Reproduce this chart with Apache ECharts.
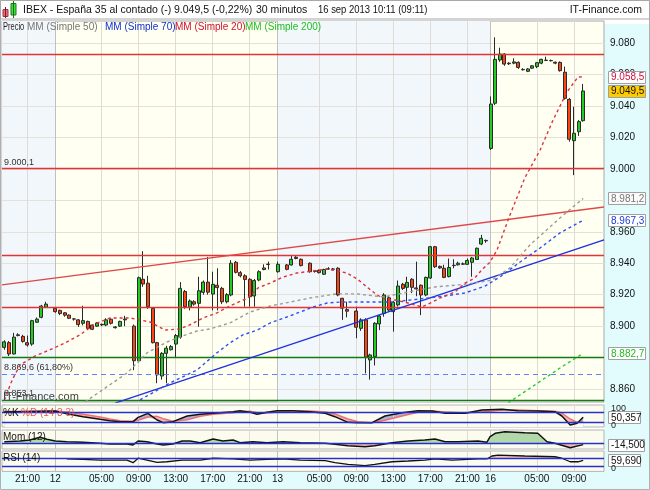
<!DOCTYPE html>
<html><head><meta charset="utf-8">
<script src="https://cdn.jsdelivr.net/npm/echarts@6/dist/echarts.min.js"></script>
<style>
html,body{margin:0;padding:0;background:#fff}
#wrap{position:relative;width:650px;height:490px;background:#fff;overflow:hidden}
.cy{position:absolute;background:#e2fcfd}
#c{position:absolute;left:0;top:0;width:650px;height:490px}
</style>
</head><body>
<div id="wrap">
<div class="cy" style="left:604px;top:24px;width:46px;height:466px"></div>
<div class="cy" style="left:0;top:472px;width:650px;height:18px"></div>
<div id="c"></div>
</div>
<script>
// ---------------- DATA ----------------
const slotCount = 130;
const tickIndex = [5,11,21,29,37,45,53,59,68,76,84,92,100,105,115,123];
const tickText  = ['21:00','12','05:00','09:00','13:00','17:00','21:00','13','05:00','09:00','13:00','17:00','21:00','16','05:00','09:00'];
const dayTickIndex = [11,59,105];
const dayShade = [[-0.5,11],[59,105]];
const priceTicks = [8860,8880,8900,8920,8940,8960,8980,9000,9020,9040,9060,9080];

// [open, close, low, high]
const candles = [
 [8886.5,8890,8885,8891],[8889.5,8882.3,8881,8890.5],[8882.3,8893,8882,8895.7],[8894,8894.5,8893.5,8895.5],
 [8893.5,8890.3,8889.5,8894.5],[8889.5,8888,8887,8894],[8888.6,8903.5,8887.5,8904],[8902.5,8904.5,8902,8905.5],
 [8905.6,8912.8,8905,8913.5],[8912,8914,8911.5,8915.5],'-',[8911.3,8909.2,8908.5,8912],
 [8910,8908,8907,8910.5],[8908.5,8907,8906,8909],[8907,8905,8904.5,8907.5],[8904.5,8904.6,8903.5,8905],
 [8904,8901,8899.5,8904.5],[8901.8,8903.5,8900.5,8913],[8903,8898.6,8898,8903.5],[8900.7,8898,8897.5,8901],
 [8900,8902,8899.5,8902.5],[8901.2,8900.8,8900,8901.5],[8900.7,8904,8900,8905],[8904.4,8901.8,8901,8905],
 [8899.5,8899,8898.5,8900],[8900,8903,8899.5,8903.5],[8904,8904.5,8900,8906.6],'-',
 [8900,8878,8872,8901],[8878,8930.8,8877,8931.5],[8929.8,8926.8,8925,8947.7],[8927.3,8912.4,8911,8932],
 [8911.3,8889.5,8889,8912],[8889.5,8869,8863.7,8890],[8868.3,8882.7,8866,8883.5],[8882.7,8886,8863.7,8887.5],
 [8885,8887,8884.5,8888],[8888.6,8894,8880,8895],[8893,8924,8892,8928],[8922,8912.4,8911,8923],
 [8912,8916,8910,8917],[8915.5,8914,8913,8916.5],[8914.5,8922.5,8899.6,8931.4],[8921.5,8928,8920,8929],
 [8928,8921.6,8920,8944],[8920.4,8926.6,8910,8934.6],[8926,8924.5,8910,8936.8],[8924,8915.5,8914,8925],
 [8915.5,8920,8914.5,8921],[8919.8,8940,8919,8942],[8940.6,8934.2,8933.5,8941.5],[8934,8932,8931,8935],
 [8932,8929.7,8912.4,8933],[8929.8,8918.7,8912.4,8930.5],[8919.2,8929,8912.4,8930],[8929.3,8934.6,8928.5,8935.5],
 [8936,8937,8935.5,8939.3],[8939.2,8939.4,8936,8941],'-',[8934.6,8939.3,8934,8941],
 '-',[8938.9,8936.1,8935.5,8939.5],[8938.9,8942.5,8938.5,8944.6],[8943.8,8943,8942.5,8945],
 [8942.5,8938.5,8938,8943],'-',[8940,8934.6,8934,8940.5],[8935.2,8934.8,8934,8935.6],
 [8935.5,8934,8933.5,8936],[8933,8936,8932.5,8936.5],[8936.3,8936.5,8936,8937.5],[8936.2,8936.3,8935.8,8937],
 [8936.8,8919.8,8919,8937.5],[8917.7,8911.4,8904,8918],[8910.5,8909.5,8905.6,8915.5],'-',
 [8909.6,8899.3,8892.3,8912.4],[8898.6,8904,8897,8905],[8904,8880.2,8870,8905],[8878.5,8881.7,8866,8882.5],
 [8880.6,8901.8,8875,8902.5],[8901.4,8906.4,8897.5,8907],[8908,8919.8,8906,8921],[8918,8910.2,8909,8919],
 [8909.2,8915.2,8896.5,8916],[8913.5,8925.5,8912.5,8929],[8926.6,8924,8923,8927.5],[8924.7,8927.8,8915.5,8931.4],
 [8929.8,8924.7,8921,8930.5],[8924.3,8923.7,8919,8941],[8926,8919.8,8907,8926.5],[8919.8,8931,8919,8931.5],
 [8930.6,8950.5,8930,8951],[8950.5,8937.8,8937,8951],[8938,8937,8936.5,8938.5],[8936.8,8931,8930.5,8939],
 [8931.5,8937.3,8931,8943],[8938.5,8938.7,8936.8,8942.5],[8939,8940,8938.5,8941],[8939.4,8939.6,8939,8940.5],
 [8939.3,8941.7,8939,8943],[8940.6,8943.3,8931.4,8944],[8942.4,8949.5,8942,8950],[8952.2,8955.8,8951.5,8958],
 [8954.5,8954.2,8953,8955],[9013,9041.2,9012,9046],[9041.7,9069.6,9040.5,9083.6],[9069.2,9073,9068,9077],
 [9073,9066.6,9065.5,9073.5],[9067.2,9066.8,9066,9067.8],[9067.2,9068,9066.5,9070.3],[9067.7,9064.5,9063.5,9068.3],
 [9063.2,9063,9062.5,9064],[9062,9063.5,9061.5,9064],[9064,9065.5,9063.5,9066],[9065,9067.5,9064,9068],
 [9067.2,9069.6,9066.5,9070],[9068.9,9069.1,9068.5,9071.3],[9068.7,9068.9,9068.3,9069.5],[9067.8,9067.2,9066.5,9068.2],
 [9067.7,9062.4,9061.8,9068.3],[9061.4,9044.8,9044,9065],[9044.2,9018.8,9017.3,9045],[9017.9,9022.6,8996,9039.5],
 [9023.6,9030,9020.9,9031],[9030.6,9049.5,9030,9054]
];

// moving averages, read as [slot, value]
const mm20 = [[0,8853],[1.7,8865.8],[3.4,8875.3],[6.6,8881],[9.9,8885],[13.1,8889.3],[16.3,8894.4],[19.6,8901.4],[22.8,8905.2],[27.1,8905.2],[31.5,8902.6],[34.7,8897.5],[37.9,8898.2],[40.5,8901.4],[42.9,8905.2],[45.9,8908.4],[48.7,8912.8],[52.6,8917.9],[54.8,8924.3],[57.4,8927.4],[60.2,8931.2],[63.2,8933.8],[66.7,8935.1],[69.7,8936.3],[71.8,8935.1],[74,8933.8],[76.2,8930],[78.3,8924.9],[80.5,8919.8],[82.6,8916.6],[84.4,8916.6],[87.2,8914.7],[90.2,8912.2],[92.4,8915.3],[94.5,8918.5],[97.3,8921.7],[99.5,8927.4],[101.6,8930.6],[103.1,8935.7],[104.9,8940.8],[106.4,8948.4],[109.2,8970.7],[112.4,8994.2],[115.7,9012],[118.5,9031],[121.5,9048.8],[123.9,9058.4],[125,9058.5]];
const mm50 = [[17.4,8851.8],[26.5,8870.2],[30.8,8883],[35.1,8889.9],[37.9,8893.1],[41.6,8896.9],[44.4,8898.2],[48.7,8902],[53.1,8909],[57.4,8912.8],[61.7,8915.3],[66,8917.9],[71.8,8920.5],[76.2,8920.5],[81.8,8918.5],[87.2,8921.7],[93,8924.9],[98,8926.2],[101.6,8927.4],[105.3,8929.3],[109.2,8937],[113.5,8951.6],[120,8968.8],[125,8981.2]];
const mm70 = [[29.3,8853.1],[35.8,8863.9],[41.6,8872.1],[45.9,8883],[48.7,8889.3],[51.5,8894.4],[54.6,8897.5],[57.4,8902],[61,8905.8],[63.9,8909],[66.7,8912.2],[69.7,8914.7],[72.5,8915.3],[79,8915.3],[83.7,8915.3],[89.8,8917.3],[95.2,8919.2],[99.5,8921.1],[103.8,8925.5],[107,8931.2],[111.4,8940.8],[115.7,8949.7],[120,8959.3],[125,8967.3]];
const mm200 = [[108.8,8851.2],[120,8873.4],[125,8882.7]];
const trendRed  = [[-0.5,8926.2],[129.5,8975.7]];
const trendBlue = [[23.9,8851.1],[129.5,8954.8]];

const levelValues = [9073, 9000.1, 8945.2, 8912, 8880.3, 8869.6, 8853.1];
const levelKinds  = ['red','red','red','red','green','fibo','green'];
const levelLabels = ['', '9.000,1', '', '', '', '8.869,6 (61,80%)', '8.853,1'];

// stochastic %K %D (14 3 3)
const stochIdx = [0,11,13.5,17,20.7,22.8,25,27.8,28.9,31,33,34.3,36.4,39.5,42.3,45.1,49.4,50.9,53.1,54.6,56.7,58.9,62.3,66,69.3,71.4,74.2,76.4,79.4,82.2,85.9,89.3,92.4,95.2,99.5,103.1,107.5,110.9,115.2,118.9,120.4,122.2,123.7,125];
const stochK = [82,88,72,54,38,30,24,24,50,74,34,18,24,58,68,74,84,90,80,68,80,90,90,84,74,54,20,18,18,58,78,90,88,74,74,94,98,90,88,84,58,4,14,50.357];
const stochD = [85,88,82,68,52,40,30,26,32,52,56,42,26,36,56,68,78,84,86,78,76,82,88,88,82,70,40,24,18,32,58,80,88,82,76,82,94,94,90,86,76,40,20,22];
const stochLevels = [80,20];

// momentum (12)
const momIdx = [0,3.4,5.5,7.7,9.2,11,13.5,17,20.7,22.8,26.5,27.8,28.9,30.8,33,34.3,36.4,38.4,40.1,42.3,45.1,47.2,49.4,50.9,53.7,56.7,60.2,63.9,69.3,71.4,74.2,77.9,80,83.7,87.2,90.8,93,95.2,98,102.3,104.2,104.9,106,108.1,112.4,115.2,117.2,118.9,122.2,125];
const momVal = [17,25,36,65,44,25,17,11,0,-8,-8,-18,25,17,-8,-18,-8,25,25,7,47,25,36,7,17,7,17,7,0,-11,-26,-37,-26,7,25,36,47,17,17,25,11,72,109,126,115,109,17,0,-48,-14.5];

// RSI (14)
const rsiIdx = [13.5,17,20.7,26.5,27.8,28.9,30.8,33,35.1,38.4,42.3,45.1,49.4,53.1,56.7,60.2,63.9,69.3,71.4,74.2,77.9,80,83.7,87.2,90.8,93,96.7,102.3,104.2,105.3,106.6,112.4,118.9,120.4,122.2,123.9,125];
const rsiVal = [67,65,61,61,47,71,61,49,52,61,61,71,67,61,65,67,61,58,47,38,31,38,52,56,61,67,61,67,67,83,88,83,79,71,52,52,59.69];
const rsiLevels = [70,30];

const headerTexts = ['IBEX - España 35 al contado (-)', '9.049,5 (-0,22%)', '30 minutos', '16 sep 2013 10:11 (09:11)', 'IT-Finance.com'];
const legendTexts = ['Precio', 'MM (Simple 50)', 'MM (Simple 70)', 'MM (Simple 20)', 'MM (Simple 200)'];

// ---------------- CHART ----------------
const FONT = 'Liberation Sans';
function fmt(v, d) {
  const neg = v < 0; const s = Math.abs(v).toFixed(d);
  let [ip, fp] = s.split('.');
  ip = ip.replace(/\B(?=(\d{3})+(?!\d))/g, '.');
  return (neg ? '-' : '') + ip + (fp ? ',' + fp : '');
}
const categories = Array.from({length: slotCount}, (_, i) => String(i));
const xMin = -0.5, xMax = slotCount - 0.5;
const mainTop = 21, mainBottom = 402, pxPerPoint = 1.573, refPrice = 9080, refY = 43;
const yMax = refPrice + (refY - mainTop) / pxPerPoint;
const yMin = refPrice - (mainBottom - refY) / pxPerPoint;
const panelBg = '#fcfcee';

const candleData = candles.map(c => c === '-' ? ['-','-','-','-'] : c);
const levelStyles = {
  red:   {color:'#e23434', width:1.3, type:'solid'},
  green: {color:'#137a13', width:1.4, type:'solid'},
  fibo:  {color:'#5b82f8', width:1.2, type:[5,4]}
};
const vgridItems = tickIndex.map(i => ({xAxis: i, lineStyle:{color: dayTickIndex.includes(i) ? '#c0c0c0' : '#dedcd4', width:1, type:'solid'}}));
const vgrid = (z) => ({silent:true, symbol:['none','none'], z, label:{show:false}, animation:false, data: vgridItems});
const hlines = (vals, z) => ({silent:true, symbol:['none','none'], z, label:{show:false}, animation:false,
  data: vals.map(v => ({yAxis:v, lineStyle:{color:'#2430d0', width:1.4, type:'solid'}}))});
const line = (data, color, width, type, xi, yi, z, extra) => Object.assign({type:'line', xAxisIndex:xi, yAxisIndex:yi, data,
  symbol:'none', showSymbol:false, silent:true, z: z || 3, animation:false, lineStyle:{color, width, type: type || 'solid'}}, extra || {});
const fill = (data, color, xi, yi, z, origin, extra) => line(data, '#000', 0, 'solid', xi, yi, z,
  Object.assign({lineStyle:{opacity:0, width:0}, areaStyle:{color, opacity:1, origin: origin}}, extra || {}));

const zipXY = (xs, ys) => xs.map((x,k) => [x, ys[k]]);
const stochLow = stochIdx.map((x,k) => [x, Math.min(stochK[k], stochD[k])]);
const momPos = momIdx.map((x,k) => [x, Math.max(momVal[k], 0)]);
const momNeg = momIdx.map((x,k) => [x, Math.min(momVal[k], 0)]);
const rsiHigh = rsiIdx.map((x,k) => [x, Math.max(rsiVal[k], 70)]);

const gridCommon = {left:2, right:46, show:true, borderWidth:1};
const hiddenX = (g, pos) => ({type:'value', gridIndex:g, min:xMin, max:xMax, show:false, position:pos || 'bottom'});

const option = {
  animation:false,
  textStyle:{fontFamily:FONT},
  grid:[
    Object.assign({top:mainTop, height:mainBottom-mainTop, backgroundColor:'#fffff2', borderColor:'#a8a8a8'}, gridCommon),
    Object.assign({top:405, height:22, backgroundColor:panelBg, borderColor:'#b4b4b4'}, gridCommon),
    Object.assign({top:430, height:19, backgroundColor:panelBg, borderColor:'#b4b4b4'}, gridCommon),
    Object.assign({top:451, height:20.4, backgroundColor:panelBg, borderColor:'#b4b4b4'}, gridCommon),
    {left:2, right:46, top:refY, height:(refPrice-8860)*pxPerPoint, show:false}
  ],
  xAxis:[
    {type:'category', gridIndex:0, data:categories, boundaryGap:true, show:false},
    hiddenX(0),
    hiddenX(1),
    hiddenX(2),
    hiddenX(3,'top'),
    {type:'category', gridIndex:3, data:categories, boundaryGap:true, position:'bottom',
      axisLine:{show:false}, axisTick:{show:false}, splitLine:{show:false},
      axisLabel:{interval:(idx) => tickIndex.includes(idx), formatter:(v, idx) => tickText[tickIndex.indexOf(idx)] || '',
        fontSize:10, color:'#111', margin:3, fontFamily:FONT}},
    hiddenX(4)
  ],
  yAxis:[
    {type:'value', gridIndex:0, min:yMin, max:yMax, show:false},
    {type:'value', gridIndex:1, min:-8, max:124, show:false},
    {type:'value', gridIndex:2, min:-62, max:145, show:false},
    {type:'value', gridIndex:3, min:0, max:110, show:false},
    {type:'value', gridIndex:4, position:'right', min:8860, max:9080, interval:20,
      axisLine:{show:false}, splitLine:{show:false},
      axisTick:{show:true, length:4, lineStyle:{color:'#8a8a8a'}},
      minorTick:{show:true, splitNumber:2, length:3, lineStyle:{color:'#9a9a9a'}},
      axisLabel:{margin:6, fontSize:10, color:'#111', fontFamily:FONT, formatter:v => fmt(v,0)}}
  ],
  series:[
    // background: day shading + grid lines
    {type:'line', xAxisIndex:1, yAxisIndex:0, data:[[xMin, yMin]], symbol:'none', showSymbol:false, lineStyle:{opacity:0}, silent:true, z:1,
      markArea:{silent:true, z:0.5, itemStyle:{color:'#f2f7fc'}, data: dayShade.map(r => [{xAxis:r[0]},{xAxis:r[1]}])},
      markLine:{silent:true, z:0.7, symbol:['none','none'], label:{show:false}, animation:false,
        data:[...priceTicks.map(v => ({yAxis:v, lineStyle:{color:'#e2e2da', width:1, type:'solid'}})), ...vgridItems]}},
    {type:'candlestick', xAxisIndex:0, yAxisIndex:0, data:candleData, barWidth:3.5, z:2, silent:true, clip:true,
      itemStyle:{color:'#22cc22', color0:'#ff4411', borderColor:'#2a2a2a', borderColor0:'#2a2a2a', borderWidth:1},
      markLine:{silent:true, symbol:['none','none'], animation:false, z:2.5,
        data: levelValues.map((v,k) => ({yAxis:v, lineStyle:levelStyles[levelKinds[k]],
          label: levelLabels[k] ? {show:true, formatter:levelLabels[k], position:'insideStartTop', color:'#333', fontSize:9, distance:2, fontFamily:FONT} : {show:false}}))}},
    line(trendRed, '#e04848', 1.4, 'solid', 1, 0, 3),
    line(trendBlue, '#1f2fe0', 1.4, 'solid', 1, 0, 3),
    line(mm50, '#9a9a9a', 1.4, [3,3], 1, 0, 3),
    line(mm70, '#3050f0', 1.4, [3,3], 1, 0, 3),
    line(mm20, '#e0303c', 1.4, [3,3], 1, 0, 3),
    line(mm200, '#30c830', 1.4, [3,3], 1, 0, 3),
    // stochastic: pink under %D, blue under %K, cover under min(K,D)
    fill(zipXY(stochIdx, stochD), '#f4b4b4', 2, 1, 2, 'start'),
    fill(zipXY(stochIdx, stochK), '#a9b2d9', 2, 1, 2.1, 'start'),
    fill(stochLow, panelBg, 2, 1, 2.2, 'start', {markLine: vgrid(2.5)}),
    line(zipXY(stochIdx, stochD), '#f07070', 1.5, 'solid', 2, 1, 3),
    line(zipXY(stochIdx, stochK), '#111', 1.5, 'solid', 2, 1, 3.1, {markLine: hlines(stochLevels, 5)}),
    // momentum
    fill(momPos, '#b2d8aa', 3, 2, 2, 0, {markLine: vgrid(1)}),
    fill(momNeg, '#f2b6b6', 3, 2, 2, 0),
    line(zipXY(momIdx, momVal), '#111', 1.5, 'solid', 3, 2, 3, {markLine: hlines([0], 5)}),
    // RSI
    fill(rsiHigh, '#f4c0c0', 4, 3, 2, 70, {markLine: vgrid(1)}),
    line(zipXY(rsiIdx, rsiVal), '#111', 1.3, 'solid', 4, 3, 3, {markLine: hlines(rsiLevels, 5)})
  ]
};

const chart = echarts.init(document.getElementById('c'));
chart.setOption(option);

// ---------------- overlays (texts, value boxes) ----------------
const py = (ai, v) => chart.convertToPixel({yAxisIndex: ai}, v);
const T = (x, y, text, fill, size, extra, sx) => ({type:'text', x, y, z:100, silent:true, scaleX: sx || 1,
  style:Object.assign({text, fill, font: size + 'px ' + FONT, verticalAlign:'middle', align:'left'}, extra || {})});
const R = (x, y, w, h, fill, stroke) => ({type:'rect', z:99, silent:true, shape:{x, y, width:w, height:h}, style:{fill, stroke, lineWidth:1}});
const L = (x1, y1, x2, y2, stroke) => ({type:'line', z:100, silent:true, shape:{x1, y1, x2, y2}, style:{stroke, lineWidth:1}});
const els = [];
// frame + header
els.push(R(0.5, 0.5, 649, 489, 'none', '#b0b0b0'));
els.push(R(0.5, 0.5, 649, 18.5, '#ffffff', '#a8a8a8'));
els.push(L(5.5, 7, 5.5, 18, '#702030'));
els.push(R(3, 9.5, 5, 7, '#f26a78', '#a03040'));
els.push(L(13.5, 1, 13.5, 18, '#1a6a1a'));
els.push(R(11, 3.5, 5, 11.5, '#3ee03e', '#1a7a1a'));
els.push(T(23, 10, headerTexts[0], '#111', 10.5));
els.push(T(174, 10, headerTexts[1], '#111', 10.5));
els.push(T(256, 10, headerTexts[2], '#111', 10.5));
els.push(T(318, 10, headerTexts[3], '#111', 10.5, null, 0.9));
els.push(T(642, 10, headerTexts[4], '#111', 10.5, {align:'right'}));
// legend
els.push(T(3, 27, legendTexts[0], '#222', 10, null, 0.75));
els.push(T(27, 27, legendTexts[1], '#777', 10));
els.push(T(105, 27, legendTexts[2], '#1030d0', 10));
els.push(T(175, 27, legendTexts[3], '#d01030', 10));
els.push(T(245, 27, legendTexts[4], '#20c020', 10));
// watermark and panel titles
els.push(T(3, 397, 'IT-Finance.com', '#444', 11));
els.push(T(3, 413, '%K', '#111', 10));
els.push(T(21, 413, '%D (14 3 3)', '#e05a5a', 10));
els.push(T(3, 437, 'Mom (12)', '#111', 10));
els.push(T(3, 458, 'RSI (14)', '#111', 10));
// sub-panel scale labels
els.push(T(611, py(1, 100), '100', '#222', 9));
els.push(T(611, py(1, 0), '0', '#222', 9));
els.push(T(611, py(3, 0) - 3, '0', '#222', 9));
// value boxes
const box = (ai, v, dec, color, bg, w) => {
  const y = py(ai, v);
  els.push(R(608.5, Math.round(y - 6) + 0.5, w, 12, bg, '#a0a0a0'));
  els.push(T(611, y + 0.5, fmt(v, dec), color, 10));
};
const last = candles[candles.length - 1][1];
box(0, mm20[mm20.length-1][1], 1, '#d0103a', '#ffffff', 37);
box(0, last, 1, '#111111', '#ffcc00', 37);
box(0, mm50[mm50.length-1][1], 1, '#777777', '#fafafa', 37);
box(0, mm70[mm70.length-1][1], 1, '#1a3ad0', '#ffffff', 37);
box(0, mm200[mm200.length-1][1], 1, '#22bb22', '#ffffff', 37);
box(1, stochK[stochK.length-1], 3, '#111111', '#ffffff', 32);
box(2, momVal[momVal.length-1], 3, '#111111', '#ffffff', 36);
box(3, rsiVal[rsiVal.length-1], 3, '#111111', '#ffffff', 32);
chart.setOption({graphic:{elements: els}});
</script>
</body></html>
